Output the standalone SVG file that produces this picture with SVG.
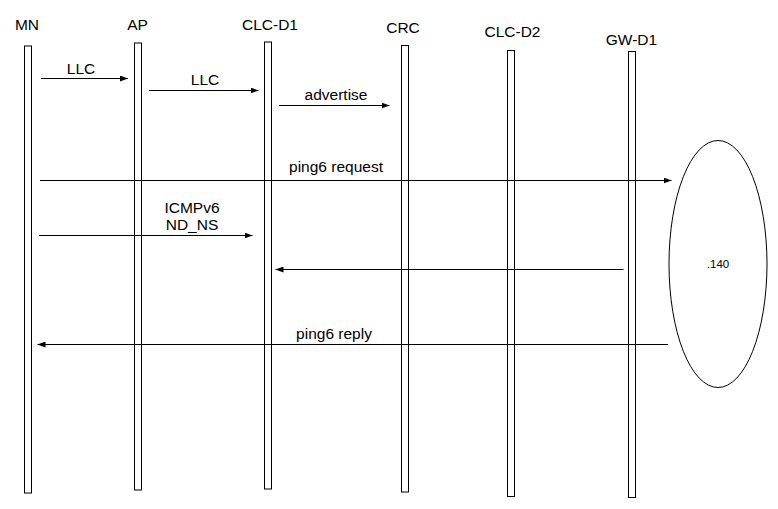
<svg xmlns="http://www.w3.org/2000/svg" width="778" height="509" viewBox="0 0 778 509">
<defs>
<style>
.lbl{font-family:"Liberation Sans",Arial,sans-serif;font-size:15.5px;fill:#000;text-anchor:middle}
.small{font-family:"Liberation Sans",Arial,sans-serif;font-size:11.5px;fill:#000;text-anchor:middle}
.bar{fill:#fff;stroke:#000;stroke-width:1}
.msg{stroke:#000;stroke-width:1;fill:none;marker-end:url(#ah)}
</style>
<marker id="ah" viewBox="0 0 8 6" refX="8" refY="3" markerWidth="8" markerHeight="6" markerUnits="userSpaceOnUse" orient="auto">
<path d="M0,0 L8,3 L0,6 Z" fill="#000"/>
</marker>
</defs>
<rect width="778" height="509" fill="#fff"/>
<g id="MN"><text class="lbl" x="27" y="30">MN</text><rect class="bar" x="24.5" y="46" width="7" height="447"/></g>
<g id="AP"><text class="lbl" x="137.5" y="30">AP</text><rect class="bar" x="134.5" y="43" width="7" height="447"/></g>
<g id="CLC-D1"><text class="lbl" x="270" y="29.5">CLC-D1</text><rect class="bar" x="264.5" y="42" width="7" height="447"/></g>
<g id="CRC"><text class="lbl" x="403" y="33">CRC</text><rect class="bar" x="401.5" y="45.5" width="7" height="446.5"/></g>
<g id="CLC-D2"><text class="lbl" x="512.5" y="37">CLC-D2</text><rect class="bar" x="507.5" y="50.5" width="7" height="446"/></g>
<g id="GW-D1"><text class="lbl" x="631.5" y="44.5">GW-D1</text><rect class="bar" x="628.5" y="51.5" width="7" height="446"/></g>
<g id="node140"><ellipse cx="718" cy="264" rx="49" ry="123.5" fill="#fff" stroke="#000" stroke-width="1"/><text class="small" x="718" y="268">.140</text></g>
<g id="connectors">
<line class="msg" x1="41" y1="78.5" x2="128" y2="78.5"/>
<text class="lbl" x="81" y="74">LLC</text>
<line class="msg" x1="149" y1="90.5" x2="258.5" y2="90.5"/>
<text class="lbl" x="205" y="85">LLC</text>
<line class="msg" x1="279" y1="105.5" x2="389.5" y2="105.5"/>
<text class="lbl" x="336" y="100">advertise</text>
<line class="msg" x1="40" y1="180.5" x2="671.5" y2="180.5"/>
<text class="lbl" x="336" y="172">ping6 request</text>
<line class="msg" x1="39" y1="235.5" x2="252.5" y2="235.5"/>
<text class="lbl" x="192" y="213">ICMPv6</text>
<text class="lbl" x="192" y="230">ND_NS</text>
<line class="msg" x1="623.5" y1="269.5" x2="275.5" y2="269.5"/>
<line class="msg" x1="668" y1="344.5" x2="37.5" y2="344.5"/>
<text class="lbl" x="334" y="338.5">ping6 reply</text>
</g>
</svg>
